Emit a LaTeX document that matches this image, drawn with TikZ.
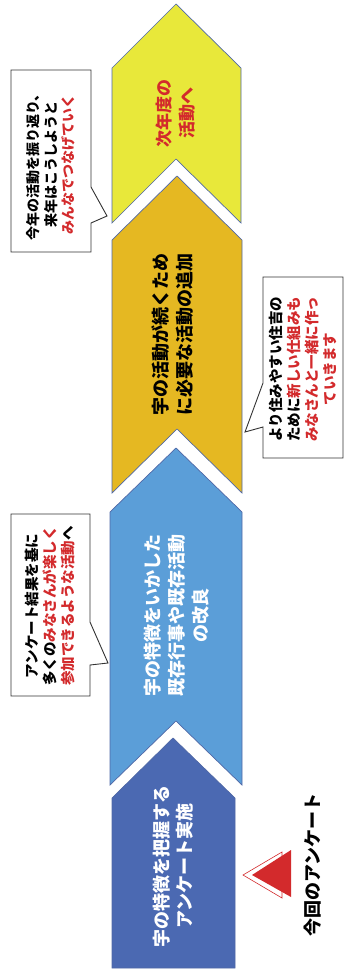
\documentclass[tikz,border=0pt]{standalone}
\usepackage{fontspec}
\newfontfamily\jpfont{Noto Sans CJK JP}
\usepackage{tikz}
\usetikzlibrary{positioning}
\definecolor{yellowstage}{HTML}{E8E83A}
\definecolor{orangestage}{HTML}{E5B822}
\definecolor{bluestage}{HTML}{5B9ED8}
\definecolor{navystage}{HTML}{4B69B2}
\definecolor{stageline}{HTML}{5068A6}
\definecolor{notered}{HTML}{D32A2C}

\begin{document}
\begin{tikzpicture}[x=1pt,y=-1pt,
  every node/.append style={font=\jpfont\bfseries,inner sep=0pt,align=center}]
  \tikzstyle{stage} = [draw=stageline,line width=0.7pt,line join=miter]
  \tikzstyle{stagetext} = [rotate=90,font=\jpfont\bfseries\fontsize{18}{24}\selectfont]
  \tikzstyle{note} = [draw=black!80,fill=white,line width=0.9pt]
  \tikzstyle{notetext} = [rotate=90,font=\jpfont\bfseries\fontsize{14.5}{18}\selectfont]
  \useasboundingbox (0,0) rectangle (350,977);
  % the four stages
  \draw[stage,fill=yellowstage] (112,68) -- (176,4) -- (241,68) -- (241,223) -- (176,159) -- (112,223) -- cycle;
  \draw[stage,fill=orangestage] (112,240) -- (177,176) -- (242,240) -- (242,493) -- (177,429) -- (112,493) -- cycle;
  \draw[stage,fill=bluestage] (110,512) -- (176,448) -- (242,512) -- (242,785) -- (176,721) -- (110,785) -- cycle;
  \draw[stage,fill=navystage] (112,798) -- (173,738) -- (235,798) -- (235,968) -- (112,968) -- cycle;
  \node (s_4) [stagetext,text=notered,font=\jpfont\bfseries\fontsize{17}{23}\selectfont] at (176,113) {次年度の\\活動へ};
  \node (s_3) [stagetext,text=black] at (173,334) {宇の活動が続くため\\に必要な活動の追加};
  \node (s_2) [stagetext,text=white] at (177,615) {宇の特徴をいかした\\既存行事や既存活動\\の改良};
  \node (s_1) [stagetext,text=white,font=\jpfont\bfseries\fontsize{18}{22.5}\selectfont] at (173,866) {宇の特徴を把握する\\アンケート実施};
  % callouts
  \coordinate (p_1) at (107,216);
  \coordinate (p_2) at (108,663);
  \coordinate (p_3) at (245,432);
  \draw[note] (11,70) -- (91,70) -- (91,187) -- (p_1) -- (91,223) -- (91,252) -- (11,252) -- cycle;
  \draw[note] (11,514) -- (90,514) -- (90,622) -- (p_2) -- (90,665) -- (90,696) -- (11,696) -- cycle;
  \draw[note] (263,277) -- (343,277) -- (343,458) -- (263,458) -- (263,427) -- (p_3) -- (263,383) -- cycle;
  \node (n_1) [notetext,font=\jpfont\bfseries\fontsize{14}{17.5}\selectfont] at (51,164) {今年の活動を振り返り、\\来年はこうしようと\\{\color{notered}みんなでつなげていく}};
  \node (n_2) [notetext] at (50,606) {アンケート結果を基に\\多くの{\color{notered}みなさんが楽しく}\\{\color{notered}参加できるような活動}へ};
  \node (n_3) [notetext] at (303,369) {より住みやすい住吉の\\ために{\color{notered}新しい仕組みも}\\{\color{notered}みなさんと一緒に作っ}\\{\color{notered}ていきます}};
  % this year's marker
  \draw[draw=notered,fill=white,line width=0.6pt] (243,875) -- (282,852) -- (282,898) -- cycle;
  \fill[notered] (252,875) -- (291,850) -- (291,897) -- cycle;
  \node (now) [rotate=90,font=\jpfont\bfseries\fontsize{18}{22}\selectfont] at (313,865) {今回のアンケート};
\end{tikzpicture}
\end{document}
